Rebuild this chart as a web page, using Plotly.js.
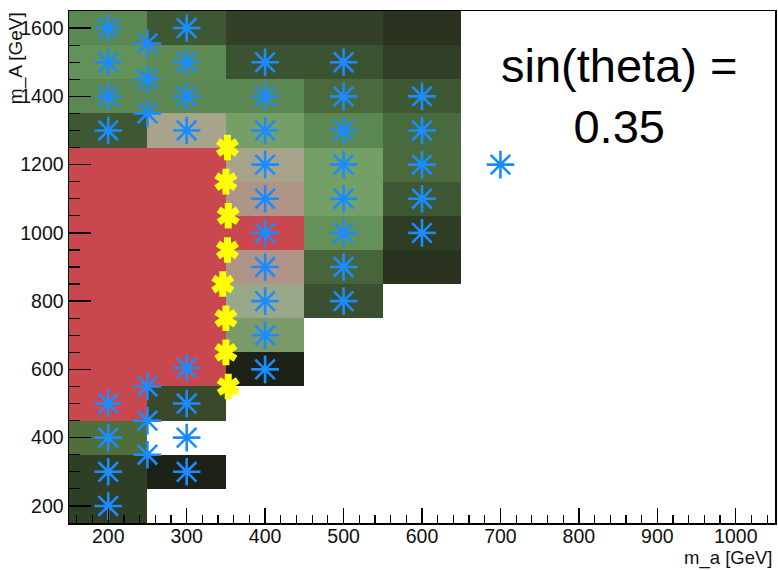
<!DOCTYPE html>
<html><head><meta charset="utf-8">
<script src="https://cdn.plot.ly/plotly-3.0.1.min.js"></script>
<style>html,body{margin:0;padding:0;background:#fff}</style>
</head><body><div id="chart" style="width:778px;height:570px"></div>
<script>
// bin centres
const ma_bins = [200, 300, 400, 500, 600];
const mA_bins = [200, 300, 400, 500, 600, 700, 800, 900, 1000, 1100, 1200, 1300, 1400, 1500, 1600];
// cell level (rows follow mA_bins, columns follow ma_bins); null = empty
const level = [
  [0.18, null, null, null, null],
  [0.18, 0.00, null, null, null],
  [0.50, null, null, null, null],
  [1.00, 0.30, null, null, null],
  [1.00, 1.00, 0.00, null, null],
  [1.00, 1.00, 0.74, null, null],
  [1.00, 1.00, 0.78, 0.31, null],
  [1.00, 1.00, 0.88, 0.42, 0.10],
  [1.00, 1.00, 1.00, 0.64, 0.17],
  [1.00, 1.00, 0.88, 0.70, 0.36],
  [1.00, 1.00, 0.82, 0.70, 0.44],
  [0.36, 0.82, 0.70, 0.58, 0.43],
  [0.58, 0.58, 0.58, 0.44, 0.36],
  [0.64, 0.61, 0.33, 0.33, 0.20],
  [0.58, 0.36, 0.24, 0.24, 0.10]
];
// blue points
const blue_ma = [200,200,200,200, 250,250,250, 300,300,300,300,
  400,400,400,400,400,400,400,400,400,400,
  500,500,500,500,500,500,500,500,
  600,600,600,600,600, 700,
  200,200,200,200, 250,250,250, 300,300,300,300];
const blue_mA = [1600,1500,1400,1300, 1555,1450,1350, 1600,1500,1400,1300,
  1500,1400,1300,1200,1100,1000,900,800,700,600,
  1500,1400,1300,1200,1100,1000,900,800,
  1400,1300,1200,1100,1000, 1200,
  500,400,300,200, 550,450,350, 605,500,400,300];
// yellow boundary points
const yel_ma = [352, 350, 353, 352, 346, 350, 350, 353];
const yel_mA = [1250, 1150, 1050, 950, 850, 750, 650, 550];

const cs = [
  [0.00, '#1c2218'], [0.10, '#2a3320'], [0.17, '#2e3d24'], [0.18, '#2f3f26'],
  [0.20, '#303f26'], [0.24, '#333f27'], [0.30, '#394a2c'], [0.31, '#3a5030'],
  [0.33, '#3a5330'], [0.36, '#3d5832'], [0.42, '#46653a'], [0.43, '#476a3e'],
  [0.44, '#4a6a3d'], [0.50, '#4f6e3c'], [0.58, '#5b8852'], [0.61, '#5f8c55'],
  [0.64, '#62925a'], [0.70, '#74a068'], [0.74, '#7a9a6a'], [0.78, '#98a888'],
  [0.82, '#a8a48c'], [0.88, '#b09488'], [1.00, '#c9474e']
];

const font = 'Liberation Sans, Arial, sans-serif';
const traces = [
  {type: 'heatmap', x: ma_bins, y: mA_bins, z: level, colorscale: cs, zmin: 0, zmax: 1,
   showscale: false, hoverongaps: false},
  {type: 'scatter', mode: 'markers', x: blue_ma, y: blue_mA,
   marker: {symbol: 'asterisk-open', size: 23, color: '#1a8cff', line: {width: 2.6, color: '#1a8cff'}}},
  {type: 'scatter', mode: 'markers', x: yel_ma, y: yel_mA,
   marker: {symbol: 'y-up-open', size: 16, color: '#ffff00', line: {width: 7, color: '#ffff00'}}},
  {type: 'scatter', mode: 'markers', x: yel_ma, y: yel_mA,
   marker: {symbol: 'y-down-open', size: 16, color: '#ffff00', line: {width: 7, color: '#ffff00'}}}
];

const layout = {
  width: 778, height: 570,
  margin: {l: 69, r: 3, t: 11, b: 47},
  paper_bgcolor: '#fff', plot_bgcolor: '#fff',
  showlegend: false,
  font: {family: font, color: '#000', size: 19.5},
  xaxis: {range: [150, 1050], showgrid: false, zeroline: false,
    showline: true, linecolor: '#000', linewidth: 1.5, mirror: true,
    ticks: 'inside', ticklen: 15, tickwidth: 1.3, tickcolor: '#000',
    tick0: 0, dtick: 100, ticklabelstandoff: -5,
    minor: {dtick: 20, ticks: 'inside', ticklen: 8, tickwidth: 1.2, tickcolor: '#000'},
    tickfont: {family: font, size: 19.5, color: '#111'}},
  yaxis: {range: [150, 1650], showgrid: false, zeroline: false,
    showline: true, linecolor: '#000', linewidth: 1.5, mirror: true,
    ticks: 'inside', ticklen: 22, tickwidth: 1.3, tickcolor: '#000',
    tick0: 0, dtick: 200,
    minor: {dtick: 50, ticks: 'inside', ticklen: 11, tickwidth: 1.2, tickcolor: '#000'},
    tickfont: {family: font, size: 19.5, color: '#111'}},
  annotations: [
    {text: 'sin(theta) =<br>0.35', xref: 'paper', yref: 'paper', x: 0.779, y: 0.834,
     xanchor: 'center', yanchor: 'middle', showarrow: false, align: 'center',
     font: {family: font, size: 47, color: '#000'}},
    {text: 'm_a [GeV]', xref: 'paper', yref: 'paper', x: 0.997, y: -0.0915,
     xanchor: 'right', yanchor: 'bottom', showarrow: false, borderpad: 0,
     font: {family: font, size: 18.5, color: '#111'}},
    {text: 'm_A [GeV]', xref: 'paper', yref: 'paper', x: -0.075, y: 0.908, textangle: -90,
     xanchor: 'center', yanchor: 'middle', showarrow: false,
     font: {family: font, size: 19, color: '#111'}}
  ]
};
Plotly.newPlot('chart', traces, layout, {displayModeBar: false, staticPlot: true});
</script></body></html>
